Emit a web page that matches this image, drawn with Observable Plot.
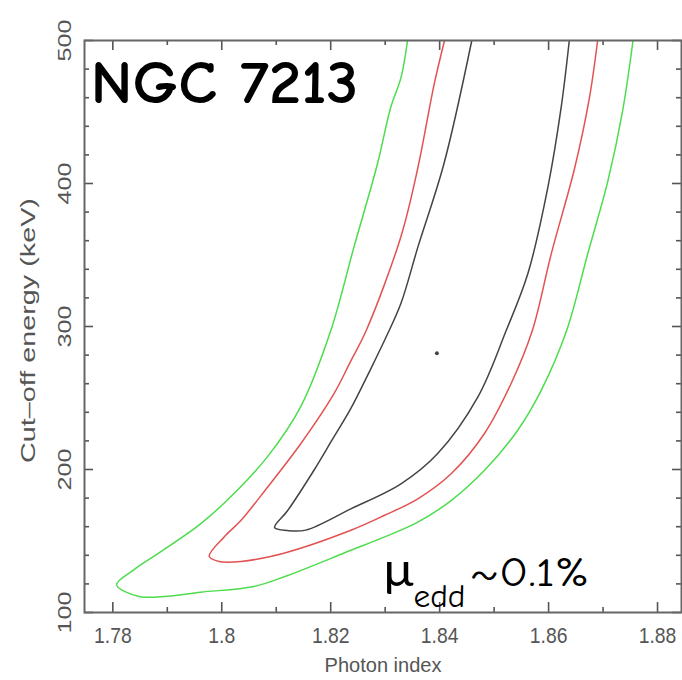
<!DOCTYPE html>
<html>
<head>
<meta charset="utf-8">
<script src="https://cdn.jsdelivr.net/npm/d3@7"></script>
<script src="https://cdn.jsdelivr.net/npm/@observablehq/plot@0.6"></script>
<style>
  html, body { margin: 0; padding: 0; background: #fff; }
  #chart { width: 682px; height: 680px; }
</style>
</head>
<body>
<div id="chart"></div>
<script>
// ---- tick values & labels ----
const xMajor = [1.78, 1.80, 1.82, 1.84, 1.86, 1.88];
const xLabels = ["1.78", "1.8", "1.82", "1.84", "1.86", "1.88"];
const xMinor = [1.79, 1.81, 1.83, 1.85, 1.87];
const yMajor = [100, 200, 300, 400, 500];
const yLabels = ["100", "200", "300", "400", "500"];
const yMinor = [120, 140, 160, 180, 220, 240, 260, 280, 320, 340, 360, 380, 420, 440, 460, 480];

// ---- confidence contours (photon index, cut-off energy) ----
const greenX = [1.8341, 1.8329, 1.8310, 1.8286, 1.8243, 1.8200, 1.8145, 1.8084, 1.8022, 1.7961, 1.7882, 1.7839, 1.7807,
                1.7848, 1.7900, 1.7961, 1.8059, 1.8121, 1.8237, 1.8298, 1.8360, 1.8421, 1.8482, 1.8543, 1.8586, 1.8633, 1.8672, 1.8709, 1.8736, 1.8755];
const greenY = [500, 474, 453, 414, 356, 297, 244, 209, 183, 162, 141, 130, 119.4,
                111.2, 111.4, 114.2, 118.2, 125.9, 143.5, 152.7, 163.2, 178.3, 199.3, 227.3, 255, 297, 351, 402, 451, 500];

const redX = [1.8409, 1.8390, 1.8360, 1.8329, 1.8265, 1.8237, 1.8206, 1.8145, 1.8084, 1.8035, 1.8004, 1.7977,
              1.7995, 1.8035, 1.8114, 1.8237, 1.8298, 1.8360, 1.8421, 1.8482, 1.8531, 1.8570, 1.8605, 1.8648, 1.8675, 1.8690];
const redY = [500, 469.5, 411, 363, 297, 276, 253, 218, 187.6, 164.3, 152.7, 139.2,
              135.7, 135.7, 141.5, 157.5, 167.8, 179.5, 197, 225, 260, 297, 351, 411, 460, 500];

const blackX = [1.8459, 1.8408, 1.8360, 1.8329, 1.8303, 1.8272, 1.8237, 1.8202, 1.8169, 1.8121, 1.8097,
                1.8121, 1.8154, 1.8237, 1.8329, 1.8396, 1.8470, 1.8522, 1.8562, 1.8599, 1.8623, 1.8638];
const blackY = [500, 414, 355.5, 316.2, 293.7, 269.2, 242.7, 220.3, 199.3, 171.3, 159.4,
                157.3, 157.6, 172.5, 190, 211, 250.6, 297, 337, 398, 453, 500];

const bestX = [1.8395];
const bestY = [281.3];

const toPts = (xs, ys) => xs.map((x, i) => ({x, y: ys[i]}));
const green = toPts(greenX, greenY);
const red = toPts(redX, redY);
const black = toPts(blackX, blackY);
const best = toPts(bestX, bestY);

const W = 682, H = 680, mT = 40, mB = 68, mL = 84, mR = 1;
const fh = H - mT - mB, fw = W - mL - mR;
const tickCol = "#555";
const tickFont = "'Liberation Sans', Arial, Helvetica, sans-serif";
const comic = "'Comic Sans MS', 'Comic Neue', Lato, 'DejaVu Sans', sans-serif";

const svg = Plot.plot({
  width: W, height: H,
  marginTop: mT, marginBottom: mB, marginLeft: mL, marginRight: mR,
  style: {background: "#fff", overflow: "visible"},
  x: {domain: [1.7748, 1.8844], axis: null},
  y: {domain: [100, 500], axis: null},
  marks: [
    // contours
    Plot.line(green, {x: "x", y: "y", stroke: "#4ddc4d", strokeWidth: 1.5, curve: "catmull-rom"}),
    Plot.line(red, {x: "x", y: "y", stroke: "#e25252", strokeWidth: 1.5, curve: "catmull-rom"}),
    Plot.line(black, {x: "x", y: "y", stroke: "#444", strokeWidth: 1.5, curve: "catmull-rom"}),
    Plot.dot(best, {x: "x", y: "y", r: 2, fill: "#444", stroke: null}),
    // inward ticks: bottom & top
    Plot.tickX(xMajor, {x: d => d, insetTop: fh - 10, stroke: tickCol, strokeWidth: 1.6}),
    Plot.tickX(xMinor, {x: d => d, insetTop: fh - 5, stroke: tickCol, strokeWidth: 1.6}),
    Plot.tickX(xMajor, {x: d => d, insetBottom: fh - 10, stroke: tickCol, strokeWidth: 1.6}),
    Plot.tickX(xMinor, {x: d => d, insetBottom: fh - 5, stroke: tickCol, strokeWidth: 1.6}),
    // inward ticks: left & right
    Plot.tickY(yMajor, {y: d => d, insetRight: fw - 9, stroke: tickCol, strokeWidth: 1.6}),
    Plot.tickY(yMinor, {y: d => d, insetRight: fw - 5, stroke: tickCol, strokeWidth: 1.6}),
    Plot.tickY(yMajor, {y: d => d, insetLeft: fw - 9, stroke: tickCol, strokeWidth: 1.6}),
    Plot.tickY(yMinor, {y: d => d, insetLeft: fw - 5, stroke: tickCol, strokeWidth: 1.6}),
    Plot.frame({stroke: "#666", strokeWidth: 2}),
    // tick labels
    Plot.text(xMajor, {x: d => d, text: (d, i) => xLabels[i], frameAnchor: "bottom", dy: 23,
      textAnchor: "middle", lineAnchor: "middle", fontSize: 22, fill: tickCol, fontFamily: tickFont}),
    Plot.text(yMajor, {y: d => d, text: (d, i) => yLabels[i], frameAnchor: "left", dx: -19, rotate: -90,
      textAnchor: "middle", lineAnchor: "middle", fontSize: 18, fill: tickCol, fontFamily: tickFont}),
    // axis titles
    Plot.text(["Photon index"], {frameAnchor: "bottom", dy: 53, textAnchor: "middle", lineAnchor: "middle",
      fontSize: 20, fill: tickCol, fontFamily: tickFont}),
    Plot.text(["Cut\u2013off energy (keV)"], {frameAnchor: "left", dx: -56, dy: 4, rotate: -90,
      textAnchor: "middle", lineAnchor: "middle", fontSize: 20, fill: tickCol, fontFamily: tickFont}),
    // annotations
    Plot.text(["NGC 7213"], {frameAnchor: "top-left", dx: 6, dy: 62, textAnchor: "start", lineAnchor: "bottom",
      fontSize: 60, fontWeight: "bold", fill: "#000", fontFamily: comic}),
    Plot.text(["\u03bc"], {frameAnchor: "bottom-left", dx: 299, dy: -27, textAnchor: "start", lineAnchor: "bottom",
      fontSize: 48, fill: "#000", fontFamily: comic}),
    Plot.text(["edd"], {frameAnchor: "bottom-left", dx: 329, dy: -6, textAnchor: "start", lineAnchor: "bottom",
      fontSize: 33, fill: "#000", fontFamily: comic}),
    Plot.text(["~0.1%"], {frameAnchor: "bottom-left", dx: 385, dy: -27, textAnchor: "start", lineAnchor: "bottom",
      fontSize: 40, fill: "#000", fontFamily: comic})
  ]
});

document.getElementById("chart").append(svg);

// stretch text along its baseline to the reference's proportions (scale about the anchor)
const fixedWidths = {"NGC 7213": 268, "edd": 52, "~0.1%": 120, "\u03bc": 30,
                     "Photon index": 117, "Cut\u2013off energy (keV)": 265};
d3.select(svg).selectAll("text").each(function () {
  const t = this.textContent;
  const w = this.getComputedTextLength();
  if (!w) return;
  let k = null;
  if (fixedWidths[t] != null) k = fixedWidths[t] / w;
  else if (xLabels.includes(t)) k = 0.88;
  else if (yLabels.includes(t)) k = 1.4;
  if (k) {
    const tr = this.getAttribute("transform") || "";
    this.setAttribute("transform", `${tr} scale(${k},1)`);
  }
});
</script>
</body>
</html>
